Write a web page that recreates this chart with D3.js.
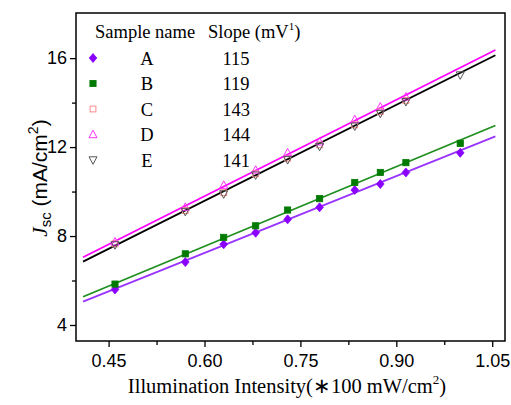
<!DOCTYPE html>
<html>
<head>
<meta charset="utf-8">
<script src="https://cdn.jsdelivr.net/npm/d3@7"></script>
<style>
body { margin: 0; background: #fff; }
</style>
</head>
<body>
<script>
var width = 511;
var height = 405;

// data
var intensity = [0.46, 0.57, 0.63, 0.68, 0.73, 0.78, 0.835, 0.875, 0.915, 1.0];
var sampleNames = ["A", "B", "C", "D", "E"];
var slopes = ["115", "119", "143", "144", "141"];
var jscA = [5.6, 6.83, 7.63, 8.15, 8.75, 9.29, 10.07, 10.34, 10.86, 11.74];
var jscB = [5.84, 7.2, 7.94, 8.46, 9.17, 9.68, 10.41, 10.86, 11.3, 12.17];
var jscC = [7.65, 9.15, 9.95, 10.8, 11.5, 12.1, 13.0, 13.6, 14.1, null];
var jscD = [7.74, 9.3, 10.29, 10.97, 11.75, 12.24, 13.24, 13.81, 14.26, null];
var jscE = [7.6, 9.1, 9.89, 10.74, 11.43, 12.03, 12.94, 13.51, 14.04, 15.24];
// linear fits (slope, intercept) per sample
var fitSlope = [11.53, 11.94, null, 14.45, 14.39];
var fitIntercept = [0.32, 0.375, null, 1.12, 0.95];
var fitRange = [0.41, 1.055];
var xTicks = [0.45, 0.60, 0.75, 0.90, 1.05];
var yTicks = [4, 8, 12, 16];

var margin = {left: 76, top: 13, right: 6, bottom: 64};

var svg = d3.select("body").append("svg")
	.attr("width", width)
	.attr("height", height);

var x = d3.scaleLinear().domain([0.399, 1.07]).range([margin.left, width - margin.right]);
var y = d3.scaleLinear().domain([3.28, 18.03]).range([height - margin.bottom, margin.top]);

var series = [
	{name: "A", values: jscA, color: "#8a00ff", line: "#9933ff", shape: "diamond", fill: true},
	{name: "B", values: jscB, color: "#007a00", line: "#1f8f1f", shape: "square", fill: true},
	{name: "C", values: jscC, color: "#ff8a8a", line: null, shape: "square", fill: false},
	{name: "D", values: jscD, color: "#ff33ff", line: "#ff00ff", shape: "triangle", fill: false},
	{name: "E", values: jscE, color: "#555555", line: "#000000", shape: "down", fill: false}
];

function drawMarker(g, s) {
	if (s.shape == "diamond") {
		g.append("path").attr("d", "M0,-4.5L3.8,0L0,4.5L-3.8,0Z");
	} else if (s.shape == "square") {
		var r = s.fill ? 3.1 : 2.9;
		g.append("rect").attr("x", -r).attr("y", -r).attr("width", 2 * r).attr("height", 2 * r);
	} else if (s.shape == "triangle") {
		g.append("path").attr("d", "M0,-4.3L4,3.2L-4,3.2Z");
	} else {
		g.append("path").attr("d", "M0,4.3L4,-3.2L-4,-3.2Z");
	}
	g.selectAll("*")
		.attr("fill", s.fill ? s.color : "none")
		.attr("stroke", s.color)
		.attr("stroke-width", s.fill ? 0.8 : 1);
}

// fit lines
var plot = svg.append("g");
series.forEach(function(s, i) {
	if (fitSlope[i] == null) return;
	plot.append("line")
		.attr("x1", x(fitRange[0]))
		.attr("y1", y(fitIntercept[i] + fitSlope[i] * fitRange[0]))
		.attr("x2", x(fitRange[1]))
		.attr("y2", y(fitIntercept[i] + fitSlope[i] * fitRange[1]))
		.attr("stroke", s.line)
		.attr("stroke-width", 1.8);
});

// points
series.forEach(function(s) {
	s.values.forEach(function(v, j) {
		if (v == null) return;
		var g = plot.append("g").attr("transform", "translate(" + x(intensity[j]) + "," + y(v) + ")");
		drawMarker(g, s);
	});
});

// axes
svg.append("g")
	.attr("transform", "translate(0," + (height - margin.bottom) + ")")
	.call(d3.axisBottom(x).tickValues(xTicks).tickSize(6).tickPadding(7).tickFormat(d3.format(".2f")));
svg.append("g")
	.attr("transform", "translate(0," + (height - margin.bottom) + ")")
	.call(d3.axisBottom(x).tickValues([0.525, 0.675, 0.825, 0.975]).tickSize(4).tickFormat(""));

svg.append("g")
	.attr("transform", "translate(" + margin.left + ",0)")
	.call(d3.axisLeft(y).tickValues(yTicks).tickSize(6).tickPadding(3));
svg.append("g")
	.attr("transform", "translate(" + margin.left + ",0)")
	.call(d3.axisLeft(y).tickValues([6, 10, 14]).tickSize(4).tickFormat(""));

svg.selectAll(".domain").remove();
svg.selectAll(".tick line").attr("stroke", "#000").attr("stroke-width", 1.3);
svg.selectAll(".tick text")
	.attr("font-family", "Liberation Sans, Arial, sans-serif")
	.attr("font-size", 18)
	.attr("fill", "#000");

// frame
svg.append("rect")
	.attr("x", margin.left)
	.attr("y", margin.top)
	.attr("width", width - margin.right - margin.left)
	.attr("height", height - margin.bottom - margin.top)
	.attr("fill", "none")
	.attr("stroke", "#000")
	.attr("stroke-width", 1.5);

// legend
var serif = "Liberation Serif, Times New Roman, serif";
var legend = svg.append("g").attr("font-family", serif).attr("font-size", 18.5).attr("fill", "#000");
legend.append("text").attr("x", 95).attr("y", 38).text("Sample name");
var slopeHead = legend.append("text").attr("x", 208).attr("y", 38);
slopeHead.append("tspan").text("Slope (mV");
slopeHead.append("tspan").attr("font-size", 11).attr("dy", -8).text("1");
slopeHead.append("tspan").attr("dy", 8).text(")");

series.forEach(function(s, i) {
	var cy = 58 + i * 25.5;
	var g = legend.append("g").attr("transform", "translate(93," + cy + ")");
	drawMarker(g, s);
	legend.append("text").attr("x", 147).attr("y", cy + 6.5).attr("text-anchor", "middle").text(sampleNames[i]);
	legend.append("text").attr("x", 236).attr("y", cy + 6.5).attr("text-anchor", "middle").text(slopes[i]);
});

// axis titles
var xt = svg.append("text")
	.attr("x", 287)
	.attr("y", 393)
	.attr("text-anchor", "middle")
	.attr("font-family", serif)
	.attr("font-size", 20.5);
xt.append("tspan").text("Illumination Intensity(\u2217100 mW/cm");
xt.append("tspan").attr("font-size", 13).attr("dy", -9).text("2");
xt.append("tspan").attr("dy", 9).text(")");

var yt = svg.append("text")
	.attr("transform", "translate(47,178) rotate(-90)")
	.attr("text-anchor", "middle")
	.attr("font-family", "Liberation Sans, Arial, sans-serif")
	.attr("font-size", 21);
yt.append("tspan").attr("font-family", serif).attr("font-style", "italic").text("J");
yt.append("tspan").attr("font-size", 15).attr("dy", 4).text("sc");
yt.append("tspan").attr("dy", -4).text(" (mA/cm");
yt.append("tspan").attr("font-size", 14).attr("dy", -9).text("2");
yt.append("tspan").attr("dy", 9).text(")");
</script>
</body>
</html>
